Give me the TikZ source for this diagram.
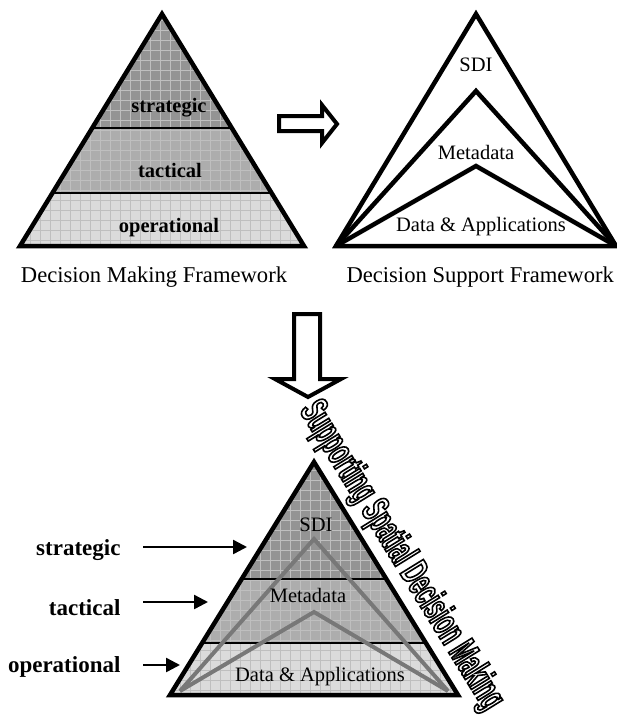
\documentclass[tikz,border=0pt]{standalone}
\usepackage{fontspec}
\setmainfont{Liberation Serif}
\newfontfamily\wordfont{Liberation Sans}[FakeStretch=0.52]
\usetikzlibrary{arrows.meta}

\definecolor{bandtop}{gray}{0.58}
\definecolor{bandmid}{gray}{0.68}
\definecolor{bandlow}{gray}{0.86}
\definecolor{gridgray}{gray}{0.75}
\definecolor{innergray}{gray}{0.47}

\newcommand{\hollowtext}[1]{\special{pdf:literal direct 1 Tr 1.6 w}#1\special{pdf:literal direct 0 Tr}}

\begin{document}
\begin{tikzpicture}[x=1pt, y=-1pt,
    pyredge/.style={line width=4.5pt, line join=miter},
    sepline/.style={line width=1.6pt},
    gridline/.style={line width=0.6pt, draw=gridgray},
    innerline/.style={line width=4pt, draw=innergray, line join=miter},
    tierlabel/.style={font=\fontsize{20.5}{24}\selectfont\bfseries},
    sdilabel/.style={font=\fontsize{20.5}{24}\selectfont},
    captext/.style={font=\fontsize{22.6}{26}\selectfont},
    sidelabel/.style={font=\fontsize{23}{27}\selectfont\bfseries, anchor=east},
    arrow/.style={-{Triangle[length=14pt,width=14pt]}, line width=2.5pt},
    blockarrow/.style={draw, fill=white, line width=4pt, line join=miter},
    wordart/.style={font=\wordfont\bfseries\fontsize{40}{44}\selectfont}
]
\useasboundingbox (0,0) rectangle (616,720);

% Decision making pyramid
\coordinate (dmA) at (162,14);
\coordinate (dmL) at (20,246);
\coordinate (dmR) at (304,246);
\begin{scope}
  \clip (dmA) -- (dmL) -- (dmR) -- cycle;
  \fill[bandtop] (0,0) rectangle (320,128);
  \fill[bandmid] (0,128) rectangle (320,193);
  \fill[bandlow] (0,193) rectangle (320,250);
  \foreach \gx in {0,10,...,320} \draw[gridline] (\gx,0) -- (\gx,250);
  \foreach \gy in {0,10,...,250} \draw[gridline] (0,\gy) -- (320,\gy);
  \draw[sepline] (0,128) -- (320,128);
  \draw[sepline] (0,193) -- (320,193);
\end{scope}
\draw[pyredge] (dmA) -- (dmL) -- (dmR) -- cycle;
\node[tierlabel] (dmstrat) at (169,108) {strategic};
\node[tierlabel] (dmtact) at (170,170) {tactical};
\node[tierlabel] (dmoper) at (169,228) {operational};
\node[captext] (dmcap) at (154,277) {Decision Making Framework};

% Decision support pyramid
\coordinate (dsA) at (476,14);
\coordinate (dsL) at (336,246);
\coordinate (dsR) at (616,246);
\coordinate (dsM) at (476,91);
\coordinate (dsD) at (476,166);
\draw[pyredge] (dsA) -- (dsL) -- (dsR) -- cycle;
\draw[pyredge] (dsL) -- (dsM) -- (dsR);
\draw[pyredge] (dsL) -- (dsD) -- (dsR);
\node[sdilabel] (dssdi) at (476,65) {SDI};
\node[sdilabel] (dsmeta) at (476,152) {Metadata};
\node[sdilabel] (dsdata) at (481,227) {Data \& Applications};
\node[captext, anchor=west] (dscap) at (343,277) {Decision Support Framework};

% Block arrows
\draw[blockarrow] (279,116) -- (322,116) -- (322,105) -- (337,124) -- (322,143) -- (322,131) -- (279,131) -- cycle;
\draw[blockarrow] (294,314) -- (320,314) -- (320,379) -- (341,379) -- (308,397) -- (275,379) -- (294,379) -- cycle;

% Combined pyramid
\coordinate (spA) at (314,462);
\coordinate (spL) at (170,695);
\coordinate (spR) at (458,695);
\coordinate (spM) at (314,539);
\coordinate (spD) at (314,612);
\coordinate (spL2) at (180,691);
\coordinate (spR2) at (448,691);
\begin{scope}
  \clip (spA) -- (spL) -- (spR) -- cycle;
  \fill[bandtop] (150,450) rectangle (480,579);
  \fill[bandmid] (150,579) rectangle (480,643);
  \fill[bandlow] (150,643) rectangle (480,700);
  \foreach \gx in {150,160,...,480} \draw[gridline] (\gx,450) -- (\gx,700);
  \foreach \gy in {450,460,...,700} \draw[gridline] (150,\gy) -- (480,\gy);
  \draw[sepline] (150,579) -- (480,579);
  \draw[sepline] (150,643) -- (480,643);
  \draw[innerline] (spL2) -- (spM) -- (spR2);
  \draw[innerline] (spL2) -- (spD) -- (spR2);
\end{scope}
\draw[pyredge] (spA) -- (spL) -- (spR) -- cycle;
\node[sdilabel] (spsdi) at (316,525) {SDI};
\node[sdilabel] (spmeta) at (308,595) {Metadata};
\node[sdilabel] (spdata) at (320,677) {Data \& Applications};

% Levels on the left
\node[sidelabel] (lstrat) at (124,550) {strategic};
\node[sidelabel] (ltact) at (124,608) {tactical};
\node[sidelabel] (loper) at (124,667) {operational};
\coordinate (aS) at (143,547);
\coordinate (aT) at (143,602);
\coordinate (aO) at (143,665);
\coordinate (tipS) at (247,547);
\coordinate (tipT) at (208,602);
\coordinate (tipO) at (180,665);
\draw[arrow] (aS) -- (tipS);
\draw[arrow] (aT) -- (tipT);
\draw[arrow] (aO) -- (tipO);

% Slanted title
\node[wordart, rotate=-58.3] (ssdm) at (401,556) {\hollowtext{Supporting Spatial Decision Making}};
\end{tikzpicture}
\end{document}
